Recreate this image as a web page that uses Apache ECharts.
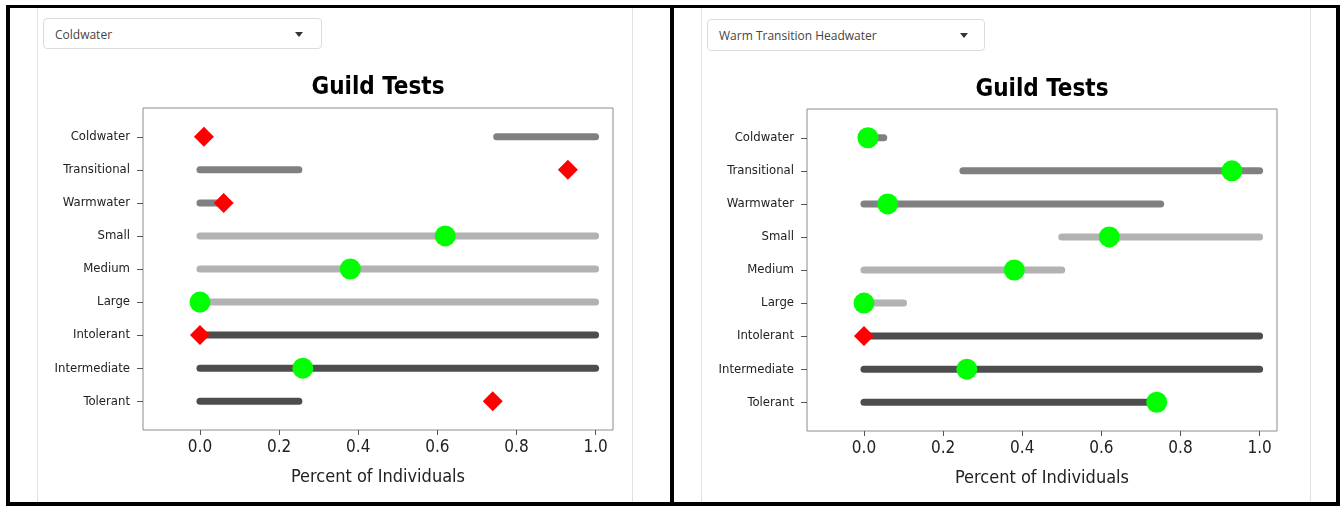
<!DOCTYPE html>
<html>
<head>
<meta charset="utf-8">
<script src="https://cdn.jsdelivr.net/npm/echarts@6/dist/echarts.min.js"></script>
<style>
  html, body { margin:0; padding:0; background:#fff; }
  #wrap { position:relative; width:1343px; height:506px; overflow:hidden; }
  #chart { position:absolute; left:0; top:0; width:1343px; height:506px; }
  .blk { position:absolute; background:#000; pointer-events:none; }
  .lt { position:absolute; background:#e2e2e2; pointer-events:none; }
  .dd { position:absolute; box-sizing:border-box; border:1px solid #dcdcdc; border-radius:4px; background:#fff;
        font-family:'Open Sans','Noto Sans',sans-serif; font-size:12px; color:#444; }
  .dd span { position:absolute; left:11px; top:50%; transform:translateY(-50%); white-space:nowrap; }
  .dd i { position:absolute; top:50%; margin-top:-2px; width:0; height:0;
          border-left:4px solid transparent; border-right:4px solid transparent; border-top:5px solid #333; }
</style>
</head>
<body>
<div id="wrap">
  <div class="lt" style="left:37px;top:8px;width:1px;height:494px;"></div>
  <div class="lt" style="left:632px;top:8px;width:1px;height:494px;"></div>
  <div class="lt" style="left:701px;top:8px;width:1px;height:494px;"></div>
  <div class="lt" style="left:1310px;top:8px;width:1px;height:494px;"></div>
  <div id="chart"></div>
  <div class="dd" id="dd0" style="left:43px;top:18px;width:279px;height:31px;"><span></span><i style="left:251px;"></i></div>
  <div class="dd" id="dd1" style="left:707px;top:19px;width:278px;height:32px;"><span></span><i style="left:252px;"></i></div>
  <div class="blk" style="left:6px;top:5px;width:1334px;height:3px;"></div>
  <div class="blk" style="left:6px;top:502px;width:1334px;height:4px;"></div>
  <div class="blk" style="left:6px;top:5px;width:4px;height:501px;"></div>
  <div class="blk" style="left:670px;top:5px;width:4px;height:501px;"></div>
  <div class="blk" style="left:1336px;top:5px;width:4px;height:501px;"></div>
</div>
<script>
// ---------------- data ----------------
const panelNames = ['Coldwater', 'Warm Transition Headwater'];
const chartTitle = 'Guild Tests';
const xAxisTitle = 'Percent of Individuals';
const categories = ['Coldwater', 'Transitional', 'Warmwater', 'Small', 'Medium', 'Large', 'Intolerant', 'Intermediate', 'Tolerant'];
const xTicks = [0, 0.2, 0.4, 0.6, 0.8, 1.0];

const leftRangeLow  = [0.75, 0,    0,    0, 0, 0, 0, 0, 0];
const leftRangeHigh = [1.0,  0.25, 0.05, 1, 1, 1, 1, 1, 0.25];
const leftObserved  = [0.01, 0.93, 0.06, 0.62, 0.38, 0, 0, 0.26, 0.74];
const leftStatus    = ['fail', 'fail', 'fail', 'pass', 'pass', 'pass', 'fail', 'pass', 'fail'];

const rightRangeLow  = [0,    0.25, 0,    0.5, 0,   0,   0, 0, 0];
const rightRangeHigh = [0.05, 1.0,  0.75, 1.0, 0.5, 0.1, 1, 1, 0.75];
const rightObserved  = [0.01, 0.93, 0.06, 0.62, 0.38, 0, 0, 0.26, 0.74];
const rightStatus    = ['pass', 'pass', 'pass', 'pass', 'pass', 'pass', 'fail', 'pass', 'pass'];

// ---------------- page ----------------
document.querySelector('#dd0 span').textContent = panelNames[0];
document.querySelector('#dd1 span').textContent = panelNames[1];

const FONT = "'DejaVu Sans Condensed','DejaVu Sans',sans-serif";
const groupColors = ['#808080', '#b2b2b2', '#4d4d4d'];
const colorFor = (idx) => groupColors[Math.floor(idx / 3)];

const panels = [
  { low: leftRangeLow, high: leftRangeHigh, obs: leftObserved, status: leftStatus, left: 143, top: 108, titleX: 378, titleY: 76 },
  { low: rightRangeLow, high: rightRangeHigh, obs: rightObserved, status: rightStatus, left: 807, top: 109, titleX: 1042, titleY: 78 }
];

const chart = echarts.init(document.getElementById('chart'), null, { renderer: 'canvas' });

const option = {
  animation: false,
  backgroundColor: 'transparent',
  title: panels.map(p => ({
    text: chartTitle, left: p.titleX, top: p.titleY, textAlign: 'center', padding: 0,
    textStyle: { fontFamily: FONT, fontWeight: 'bold', fontSize: 24, color: '#000' }
  })),
  grid: panels.map(p => ({
    left: p.left, top: p.top, width: 470, height: 322, show: true,
    borderColor: '#8c8c8c', borderWidth: 1, backgroundColor: 'transparent', containLabel: false
  })),
  xAxis: panels.map((p, i) => ({
    type: 'value', gridIndex: i, min: -0.144, max: 1.044, position: 'bottom',
    name: xAxisTitle, nameLocation: 'middle', nameGap: 38,
    nameTextStyle: { fontFamily: FONT, fontSize: 18, color: '#222' },
    axisLine: { show: false, onZero: false },
    splitLine: { show: false },
    axisTick: { show: true, length: 5, customValues: xTicks, lineStyle: { color: '#555', width: 1 } },
    axisLabel: { customValues: xTicks, margin: 9, fontFamily: FONT, fontSize: 17, color: '#222',
                 formatter: v => Number(v).toFixed(1) }
  })),
  yAxis: panels.map((p, i) => ({
    type: 'value', gridIndex: i, min: -0.87, max: 8.87, inverse: true, position: 'left',
    axisLine: { show: false, onZero: false },
    splitLine: { show: false },
    axisTick: { show: true, length: 6, customValues: categories.map((c, k) => k), lineStyle: { color: '#555', width: 1 } },
    axisLabel: { customValues: categories.map((c, k) => k), margin: 13, fontFamily: FONT, fontSize: 13, color: '#222',
                 formatter: v => categories[Math.round(v)] || '' }
  })),
  series: []
};

panels.forEach((p, i) => {
  option.series.push({
    type: 'custom', xAxisIndex: i, yAxisIndex: i, z: 2,
    data: categories.map((c, k) => [p.low[k], p.high[k], k]),
    encode: { x: [0, 1], y: 2 },
    renderItem: (params, api) => {
      const k = api.value(2);
      const a = api.coord([api.value(0), k]);
      const b = api.coord([api.value(1), k]);
      return { type: 'line', shape: { x1: a[0], y1: a[1], x2: b[0], y2: b[1] },
               style: { stroke: colorFor(k), lineWidth: 7, lineCap: 'round' } };
    }
  });
  option.series.push({
    type: 'scatter', xAxisIndex: i, yAxisIndex: i, z: 5,
    symbol: 'circle', symbolSize: 21, itemStyle: { color: '#00ff00', opacity: 1 },
    data: categories.map((c, k) => [p.obs[k], k]).filter((d, k) => p.status[k] === 'pass')
  });
  option.series.push({
    type: 'scatter', xAxisIndex: i, yAxisIndex: i, z: 5,
    symbol: 'diamond', symbolSize: [20, 20], itemStyle: { color: '#ff0000', opacity: 1 },
    data: categories.map((c, k) => [p.obs[k], k]).filter((d, k) => p.status[k] === 'fail')
  });
});

chart.setOption(option);
</script>
</body>
</html>
